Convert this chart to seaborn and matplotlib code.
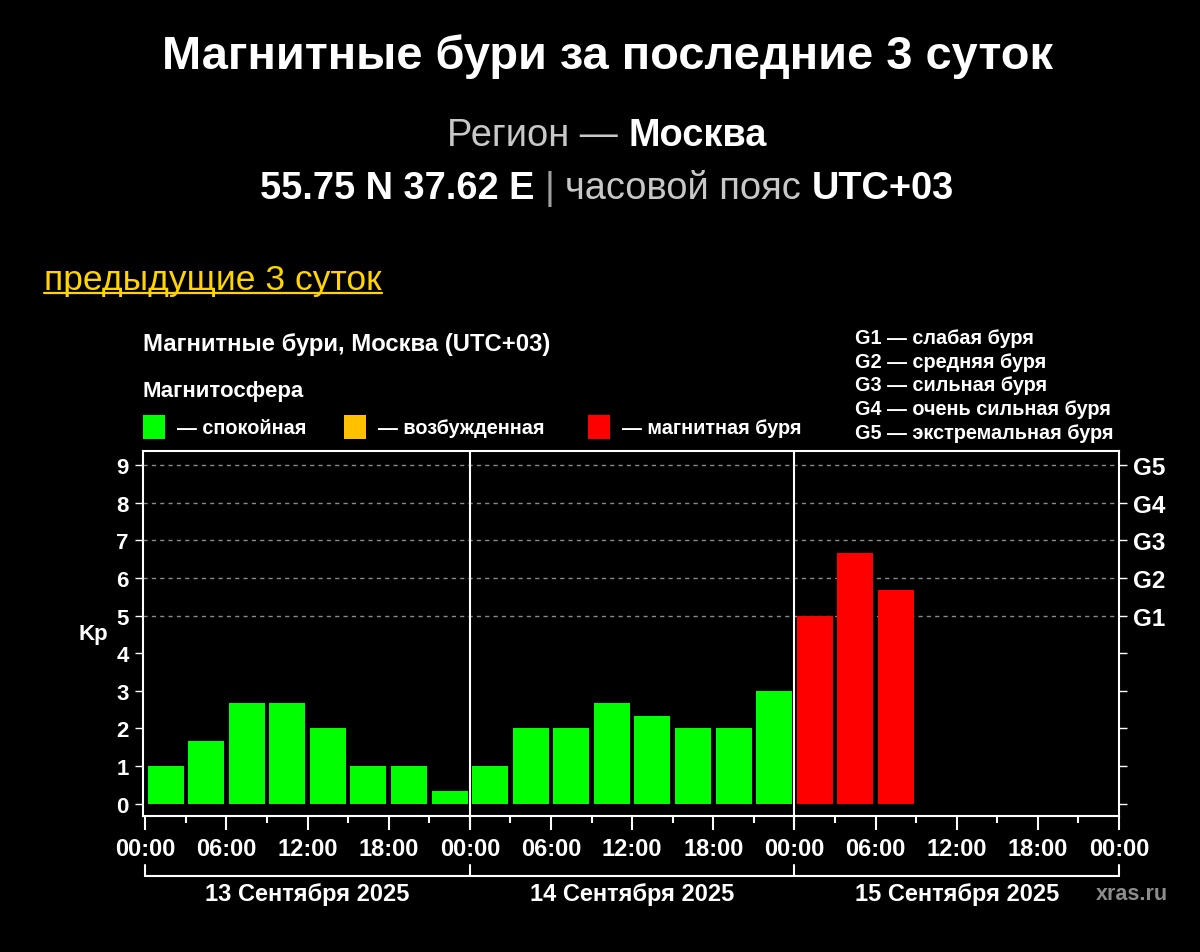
import matplotlib
matplotlib.use('Agg')
import matplotlib.pyplot as plt
from matplotlib.patches import Rectangle
from matplotlib.ticker import MultipleLocator
import pandas as pd
import seaborn as sns

# data: 3-hour Kp index, 13-15 Sep 2025 (hours from 13 Sep 00:00, slot centres)
slot_hours = [1.5, 4.5, 7.5, 10.5, 13.5, 16.5, 19.5, 22.5,
              25.5, 28.5, 31.5, 34.5, 37.5, 40.5, 43.5, 46.5,
              49.5, 52.5, 55.5]
kp_values = [1.0, 1.67, 2.67, 2.67, 2.0, 1.0, 1.0, 0.33,
             1.0, 2.0, 2.0, 2.67, 2.33, 2.0, 2.0, 3.0,
             5.0, 6.67, 5.67]
status = ['спокойная'] * 16 + ['магнитная буря'] * 3

day_labels = ['13 Сентября 2025', '14 Сентября 2025', '15 Сентября 2025']
hour_labels = ['00:00', '06:00', '12:00', '18:00'] * 3 + ['00:00']
g_labels = ['G1', 'G2', 'G3', 'G4', 'G5']
g_desc = ['G1 — слабая буря', 'G2 — средняя буря', 'G3 — сильная буря',
          'G4 — очень сильная буря', 'G5 — экстремальная буря']
legend_items = [('спокойная', '#00FF00'), ('возбужденная', '#FFC000'),
                ('магнитная буря', '#FF0000')]

df = pd.DataFrame({'hour': slot_hours, 'kp': kp_values, 'status': status})
palette = {name: col for name, col in legend_items}

sns.set_style('dark', {'axes.facecolor': 'black', 'figure.facecolor': 'black'})
plt.rcParams['font.family'] = ['Liberation Sans', 'DejaVu Sans']

W, H = 1200, 953
fig = plt.figure(figsize=(12, 9.53), dpi=100, facecolor='black')
ax = fig.add_axes([142.7 / W, 1 - 817 / H, (1119 - 142.7) / W, (817 - 452.3) / H])
ax.set_facecolor('black')

sns.barplot(data=df, x='hour', y='kp', hue='status', palette=palette,
            native_scale=True, width=0.887, dodge=False, legend=False,
            saturation=1, errorbar=None, linewidth=0, ax=ax)

ax.set_xlim(-0.19, 72.0)
ax.set_ylim(-0.33, 9.37)
ax.set_xlabel('')
ax.set_ylabel('')

# grid lines only for storm levels
for lvl in [5, 6, 7, 8, 9]:
    ax.axhline(lvl, color='#8a8a8a', lw=1, ls=(0, (3, 3)), zorder=0.5)
ax.grid(False)

for sp in ax.spines.values():
    sp.set_color('white')
    sp.set_linewidth(1.5)
    sp.set_visible(True)

ax.set_xticks(range(0, 73, 6))
ax.set_xticklabels(hour_labels)
ax.xaxis.set_minor_locator(MultipleLocator(3))
ax.tick_params(axis='x', which='major', length=10, width=1.5, color='white',
               direction='out', bottom=True, labelsize=17, labelcolor='white', pad=5)
ax.tick_params(axis='x', which='minor', length=5, width=1.5, color='white',
               direction='out', bottom=True)
for lab in ax.get_xticklabels():
    lab.set_fontweight('bold')

ax.set_yticks(range(0, 10))
ax.tick_params(axis='y', length=6, width=1, color='white', direction='out',
               left=True, labelsize=16, labelcolor='white', pad=4)
for lab in ax.get_yticklabels():
    lab.set_fontweight('bold')

# day dividers
for d in [24, 48]:
    ax.axvline(d, color='white', lw=1.5, zorder=3)
    ax.plot([d, d], [0, -0.034], transform=ax.get_xaxis_transform(),
            color='white', lw=1.5, clip_on=False)

# right axis with G levels
ax2 = ax.twinx()
ax2.set_ylim(ax.get_ylim())
ax2.set_yticks(range(0, 10))
ax2.set_yticklabels([''] * 5 + g_labels)
ax2.tick_params(axis='y', length=6, width=1, color='white', direction='out',
                right=True, labelsize=17.5, labelcolor='white', pad=4)
for lab in ax2.get_yticklabels():
    lab.set_fontweight('bold')
ax2.grid(False)
for sp in ax2.spines.values():
    sp.set_visible(False)

# date bracket below axis
trans = ax.get_xaxis_transform()
y_br, y_br_top = (817 - 877) / (817 - 452.3), (817 - 866) / (817 - 452.3)
ax.plot([0, 72], [y_br, y_br], transform=trans, color='white', lw=1.5, clip_on=False)
for d in [0, 24, 48, 72]:
    ax.plot([d, d], [y_br, y_br_top], transform=trans, color='white', lw=1.5, clip_on=False)
for i, lab in enumerate(day_labels):
    ax.text(12 + 24 * i, (817 - 895) / (817 - 452.3), lab, transform=trans,
            ha='center', va='center', color='white', fontsize=17, fontweight='bold')

ax.text(-0.051, 0.5, 'Kp', transform=ax.transAxes, ha='center', va='center',
        color='white', fontsize=16, fontweight='bold')

fig.text(1168 / W, 1 - 894 / H, 'xras.ru', ha='right', va='center',
         color='#8c8c8c', fontsize=15.5, fontweight='bold')

# headers
renderer = fig.canvas.get_renderer()
CX = 607


def rich_line(y_px, parts, size):
    objs = []
    for s, col, wt in parts:
        t = fig.text(0, 1 - y_px / H, s, color=col, fontsize=size, fontweight=wt,
                     va='center', ha='left')
        objs.append(t)
    sp_t = fig.text(0, 0, 'x x', fontsize=size)
    nsp_t = fig.text(0, 0, 'xx', fontsize=size)
    space = sp_t.get_window_extent(renderer).width - nsp_t.get_window_extent(renderer).width
    sp_t.remove()
    nsp_t.remove()
    widths = [t.get_window_extent(renderer).width for t in objs]
    total = sum(widths) + space * (len(objs) - 1)
    x = CX - total / 2
    for t, w in zip(objs, widths):
        t.set_x(x / W)
        x += w + space


fig.text(CX / W, 1 - 57 / H, 'Магнитные бури за последние 3 суток', ha='center',
         va='center', color='white', fontsize=33.8, fontweight='bold')
rich_line(136, [('Регион —', '#c8c8c8', 'normal'), ('Москва', 'white', 'bold')], 27.4)
rich_line(189, [('55.75 N 37.62 E', 'white', 'bold'), ('|', '#a0a0a0', 'normal'),
                ('часовой пояс', '#c8c8c8', 'normal'), ('UTC+03', 'white', 'bold')], 27.4)

link = fig.text(44 / W, 1 - 290 / H, 'предыдущие 3 суток', color='#FFD400',
                fontsize=25.5, va='baseline', ha='left')
bb = link.get_window_extent(renderer)
y_ul = 1 - 293.5 / H
fig.add_artist(plt.Line2D([bb.x0 / W, bb.x1 / W], [y_ul, y_ul], color='#FFD400', lw=1.6))

fig.text(143 / W, 1 - 345 / H, 'Магнитные бури, Москва (UTC+03)', color='white',
         fontsize=17.2, fontweight='bold', va='center')
fig.text(143 / W, 1 - 391 / H, 'Магнитосфера', color='white',
         fontsize=16, fontweight='bold', va='center')

box_x = [143, 344, 588]
for (name, col), bx in zip(legend_items, box_x):
    fig.add_artist(Rectangle((bx / W, 1 - 440 / H), 22 / W, 24 / H, facecolor=col,
                             edgecolor='none', transform=fig.transFigure))
    fig.text((bx + 34) / W, 1 - 428 / H, '— ' + name, color='white', fontsize=14.3,
             fontweight='bold', va='center')

for i, txt in enumerate(g_desc):
    fig.text(855 / W, 1 - (338 + 24 * i) / H, txt, color='white', fontsize=14.3,
             fontweight='bold', va='center')

fig.savefig('out.png', dpi=100, facecolor='black')
